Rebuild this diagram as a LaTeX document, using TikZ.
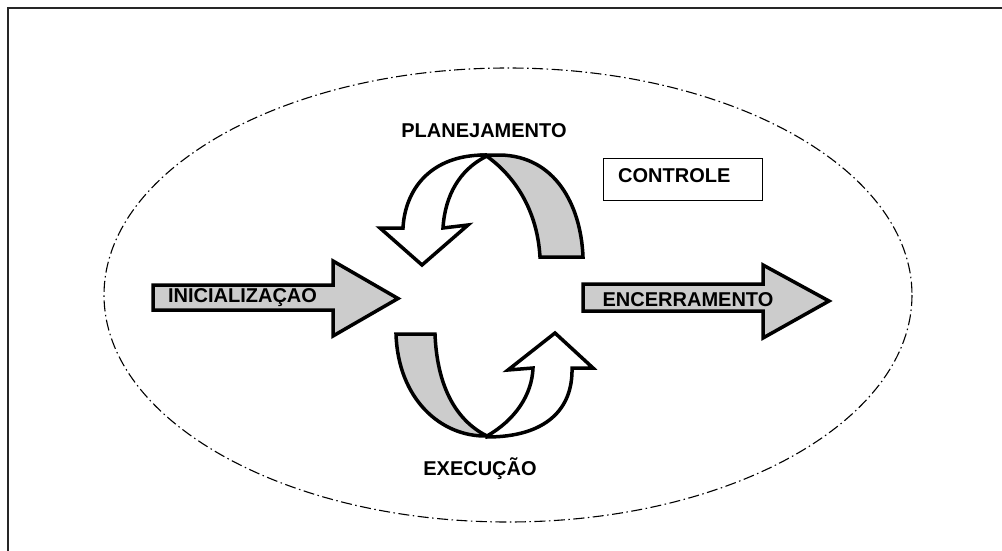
\documentclass[tikz,border=0pt]{standalone}
\usepackage{fontspec}
\setmainfont{Liberation Sans}
\begin{document}
\begin{tikzpicture}[x=1pt,y=-1pt,
  shapeline/.style={draw=black,line width=3.5pt,line join=miter,miter limit=4},
  greyfill/.style={fill=gray!40},
  label/.style={inner sep=0pt,font=\fontsize{20}{24}\selectfont\bfseries},
  boundary/.style={draw=black,line width=1.1pt,dash pattern=on 11pt off 3.5pt on 1.5pt off 3.5pt}]
\useasboundingbox (0,0) rectangle (1002,551);

% page frame (top and left rules)
\draw[line width=1.3pt,black!85] (8,560) -- (8,8) -- (1010,8);

% dash-dot boundary ellipse
\draw[boundary] (508,295) ellipse [x radius=404, y radius=227];

% straight arrows
\draw[shapeline,greyfill] (153,285) -- (333,285) -- (333,261) -- (398,298.5)
  -- (333,336) -- (333,310) -- (153,310) -- cycle;
\draw[shapeline,greyfill] (583,284) -- (763,284) -- (763,265) -- (829,301)
  -- (763,338) -- (763,311) -- (583,311) -- cycle;

% upper circular arrow: grey back band, then white front band with head
\draw[shapeline,greyfill] (540,257) -- (583,257)
  .. controls (581,205) and (555,156) .. (500,155) -- (485,155)
  .. controls (510,172) and (537,205) .. (540,257) -- cycle;
\draw[shapeline,fill=white] (485,155)
  .. controls (430,155) and (405,190) .. (403,228)
  -- (380,228) -- (422,265) -- (468,225) -- (443,228)
  .. controls (445,195) and (460,170) .. (485,157) -- cycle;

% lower circular arrow
\draw[shapeline,greyfill] (396,334) -- (435,334)
  .. controls (437,385) and (455,420) .. (487,436)
  .. controls (440,437) and (398,398) .. (396,334) -- cycle;
\draw[shapeline,fill=white] (487,436)
  .. controls (515,420) and (532,395) .. (533,368)
  -- (508,370) -- (555,333) -- (593,368) -- (572,368)
  .. controls (573,410) and (545,437) .. (487,437) -- cycle;

% control box
\node[draw=black,line width=1pt,minimum width=159pt,minimum height=42pt,inner sep=0pt,anchor=north west] (ctrlbox) at (603,158) {};

% labels
\node[label,anchor=base] (plan) at (484,137) {PLANEJAMENTO};
\node[label,anchor=base] (exec) at (480,475) {EXECUÇÃO};
\node[label,anchor=base] (init) at (242.5,302) {INICIALIZAÇÃO};
\node[label,anchor=base] (close) at (688,306) {ENCERRAMENTO};
\node[label,anchor=base west] (ctrl) at (618,182) {CONTROLE};
\end{tikzpicture}
\end{document}
